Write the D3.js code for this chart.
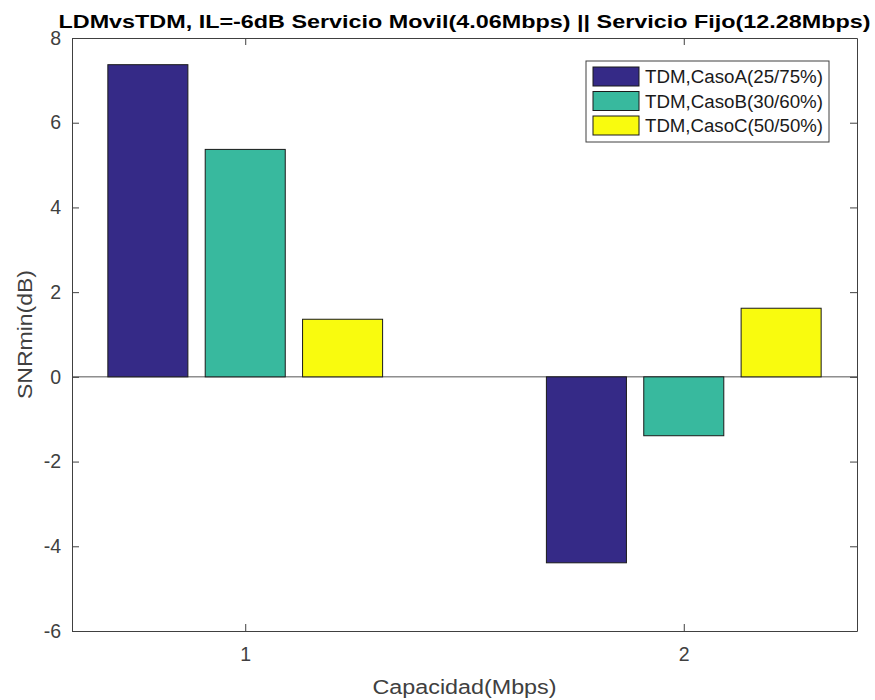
<!DOCTYPE html>
<html><head><meta charset="utf-8">
<script src="https://cdn.jsdelivr.net/npm/d3@7"></script>
<style>body{margin:0;background:#fff}svg{display:block}text{font-family:"Liberation Sans",Arial,sans-serif}</style>
</head><body>
<script>
const categories = [1, 2];
const seriesNames = ["TDM,CasoA(25/75%)", "TDM,CasoB(30/60%)", "TDM,CasoC(50/50%)"];
const seriesColors = ["#352a87", "#38b99e", "#f9fb0e"];
const casoA = [7.37, -4.39];
const casoB = [5.37, -1.39];
const casoC = [1.36, 1.62];
const series = [casoA, casoB, casoC];
const yTicks = [-6, -4, -2, 0, 2, 4, 6, 8];
const xTicks = [1, 2];
const title = "LDMvsTDM, IL=-6dB Servicio Movil(4.06Mbps) || Servicio Fijo(12.28Mbps)";

const W = 875, H = 700;
const m = {l: 72, r: 18, t: 38, b: 69};
const svg = d3.select("body").append("svg").attr("width", W).attr("height", H);
const x = d3.scaleLinear().domain([0.605, 2.395]).range([m.l, W - m.r]);
const y = d3.scaleLinear().domain([-6, 8]).range([H - m.b, m.t]);
const offsets = [-0.222, 0, 0.222];
const bw = 0.1825;
const axisColor = "#404040";

// baseline
svg.append("line").attr("x1", x(0.605)).attr("x2", x(2.395)).attr("y1", y(0)).attr("y2", y(0))
  .attr("stroke", "#555").attr("stroke-width", 1);

// bars
series.forEach((vals, si) => {
  svg.append("g").selectAll("rect").data(vals).join("rect")
    .attr("x", (d, i) => x(categories[i] + offsets[si] - bw / 2))
    .attr("width", (d, i) => x(categories[i] + offsets[si] + bw / 2) - x(categories[i] + offsets[si] - bw / 2))
    .attr("y", d => y(Math.max(0, d)))
    .attr("height", d => Math.abs(y(d) - y(0)))
    .attr("fill", seriesColors[si]).attr("stroke", "#1a1a1a").attr("stroke-width", 1);
});

// axes
const plain = d => String(d);
const tickStyle = g => {
  g.attr("font-size", null).attr("font-family", null);
  g.select(".domain").attr("stroke", axisColor);
  g.selectAll(".tick line").attr("stroke", axisColor);
  g.selectAll(".tick text").attr("fill", "#404040").style("font-size", "19.5px");
};
svg.append("g").attr("transform", `translate(${m.l},0)`)
  .call(d3.axisLeft(y).tickValues(yTicks).tickSize(-7).tickPadding(11).tickFormat(plain).tickSizeOuter(0))
  .call(tickStyle);
svg.append("g").attr("transform", `translate(${W - m.r},0)`)
  .call(d3.axisRight(y).tickValues(yTicks).tickSize(-7).tickFormat("").tickSizeOuter(0))
  .call(tickStyle);
svg.append("g").attr("transform", `translate(0,${H - m.b})`)
  .call(d3.axisBottom(x).tickValues(xTicks).tickSize(-7).tickPadding(16).tickFormat(plain).tickSizeOuter(0))
  .call(tickStyle);
svg.append("g").attr("transform", `translate(0,${m.t})`)
  .call(d3.axisTop(x).tickValues(xTicks).tickSize(-7).tickFormat("").tickSizeOuter(0))
  .call(tickStyle);

// title
const cx = (m.l + W - m.r) / 2;
svg.append("text").attr("x", cx).attr("y", 28).attr("text-anchor", "middle")
  .style("font-size", "18px").style("font-weight", "bold").attr("fill", "#000")
  .attr("textLength", 812).attr("lengthAdjust", "spacingAndGlyphs").text(title);

// axis labels
svg.append("text").attr("x", cx).attr("y", 694).attr("text-anchor", "middle")
  .style("font-size", "20px").attr("fill", "#404040")
  .attr("textLength", 184).attr("lengthAdjust", "spacingAndGlyphs").text("Capacidad(Mbps)");
svg.append("text").attr("transform", `translate(32,${(m.t + H - m.b) / 2}) rotate(-90)`)
  .attr("text-anchor", "middle").style("font-size", "20px").attr("fill", "#404040")
  .attr("textLength", 129).attr("lengthAdjust", "spacingAndGlyphs").text("SNRmin(dB)");

// legend
const lg = svg.append("g");
lg.append("rect").attr("x", 586).attr("y", 61).attr("width", 243).attr("height", 81)
  .attr("fill", "#fff").attr("stroke", "#404040").attr("stroke-width", 1);
seriesNames.forEach((n, i) => {
  const yy = 67 + i * 24.5;
  lg.append("rect").attr("x", 593).attr("y", yy).attr("width", 46).attr("height", 19)
    .attr("fill", seriesColors[i]).attr("stroke", "#1a1a1a");
  lg.append("text").attr("x", 645).attr("y", yy + 16).style("font-size", "18px").attr("fill", "#1a1a1a")
    .attr("textLength", 178).attr("lengthAdjust", "spacingAndGlyphs").text(n);
});
</script>
</body></html>
